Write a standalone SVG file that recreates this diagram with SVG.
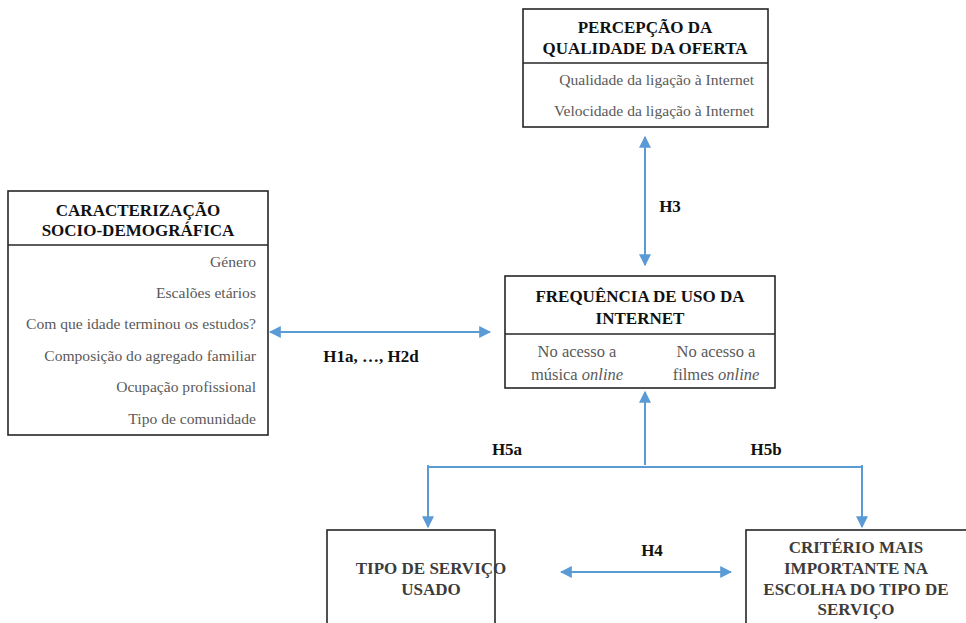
<svg xmlns="http://www.w3.org/2000/svg" width="966" height="623" viewBox="0 0 966 623">
<style>
.box{fill:#fff;stroke:#262626;stroke-width:1.6}
.div{stroke:#262626;stroke-width:1.6}
.t{font-weight:bold;font-size:17px;fill:#111;text-anchor:middle}
.t2{font-weight:bold;font-size:17px;fill:#3c3c3c;text-anchor:middle}
.i{font-size:15.6px;fill:#5a5a5a;text-anchor:end}
.ic{font-size:16.5px;fill:#5a5a5a;text-anchor:middle}
.l{font-weight:bold;font-size:17px;fill:#111;text-anchor:middle}
.c{stroke:#5b9bd5;stroke-width:2;fill:none}
</style>
<defs>
<marker id="ah" viewBox="0 0 10 10" refX="9" refY="5" markerWidth="6" markerHeight="6" orient="auto-start-reverse" markerUnits="strokeWidth">
<path d="M0,0 L10,5 L0,10 z" fill="#5b9bd5"/>
</marker>
</defs>
<g font-family="Liberation Serif, DejaVu Serif, serif">
<g id="percepcao">
<rect class="box" x="523" y="9" width="245" height="118"/>
<line class="div" x1="523" y1="63" x2="768" y2="63"/>
<text class="t" x="645" y="33">PERCEPÇÃO DA</text>
<text class="t" x="645" y="54">QUALIDADE DA OFERTA</text>
<text class="i" x="754" y="85">Qualidade  da ligação  à Internet</text>
<text class="i" x="754" y="116">Velocidade  da ligação  à Internet</text>
</g>
<g id="caracterizacao">
<rect class="box" x="8" y="191" width="260" height="244"/>
<line class="div" x1="8" y1="245" x2="268" y2="245"/>
<text class="t" x="138" y="216">CARACTERIZAÇÃO</text>
<text class="t" x="138" y="236">SOCIO-DEMOGRÁFICA</text>
<text class="i" x="256" y="267">Género</text>
<text class="i" x="256" y="298">Escalões etários</text>
<text class="i" x="256" y="329">Com que idade terminou  os estudos?</text>
<text class="i" x="256" y="361">Composição do agregado  familiar</text>
<text class="i" x="256" y="392">Ocupação profissional</text>
<text class="i" x="256" y="424">Tipo de comunidade</text>
</g>
<g id="frequencia">
<rect class="box" x="505" y="276" width="270" height="112"/>
<line class="div" x1="505" y1="334" x2="775" y2="334"/>
<text class="t" x="640" y="302">FREQUÊNCIA DE USO DA</text>
<text class="t" x="640" y="324">INTERNET</text>
<text class="ic" x="577" y="357">No acesso a</text>
<text class="ic" x="577" y="380">música <tspan font-style="italic">online</tspan></text>
<text class="ic" x="716" y="357">No acesso a</text>
<text class="ic" x="716" y="380">filmes <tspan font-style="italic">online</tspan></text>
</g>
<g id="tipo-servico">
<rect class="box" x="327" y="530" width="168" height="100"/>
<text class="t2" x="431" y="574">TIPO DE SERVIÇO</text>
<text class="t2" x="431" y="595">USADO</text>
</g>
<g id="criterio">
<rect class="box" x="746" y="530" width="230" height="100"/>
<text class="t2" x="856" y="553">CRITÉRIO MAIS</text>
<text class="t2" x="856" y="574">IMPORTANTE NA</text>
<text class="t2" x="856" y="595">ESCOLHA DO TIPO DE</text>
<text class="t2" x="856" y="615">SERVIÇO</text>
</g>
<g id="connectors">
<line class="c" x1="645" y1="137" x2="645" y2="265" marker-start="url(#ah)" marker-end="url(#ah)"/>
<line class="c" x1="270" y1="332" x2="490" y2="332" marker-start="url(#ah)" marker-end="url(#ah)"/>
<line class="c" x1="645" y1="465" x2="645" y2="392" marker-end="url(#ah)"/>
<polyline class="c" points="428,465 428,467 862,467 862,465"/>
<line class="c" x1="428" y1="466" x2="428" y2="527" marker-end="url(#ah)"/>
<line class="c" x1="862" y1="466" x2="862" y2="527" marker-end="url(#ah)"/>
<line class="c" x1="561" y1="572" x2="731" y2="572" marker-start="url(#ah)" marker-end="url(#ah)"/>
<text class="l" x="670" y="212">H3</text>
<text class="l" x="371" y="362">H1a, …, H2d</text>
<text class="l" x="507" y="455">H5a</text>
<text class="l" x="766" y="455">H5b</text>
<text class="l" x="652" y="556">H4</text>
</g>
</g>
</svg>
